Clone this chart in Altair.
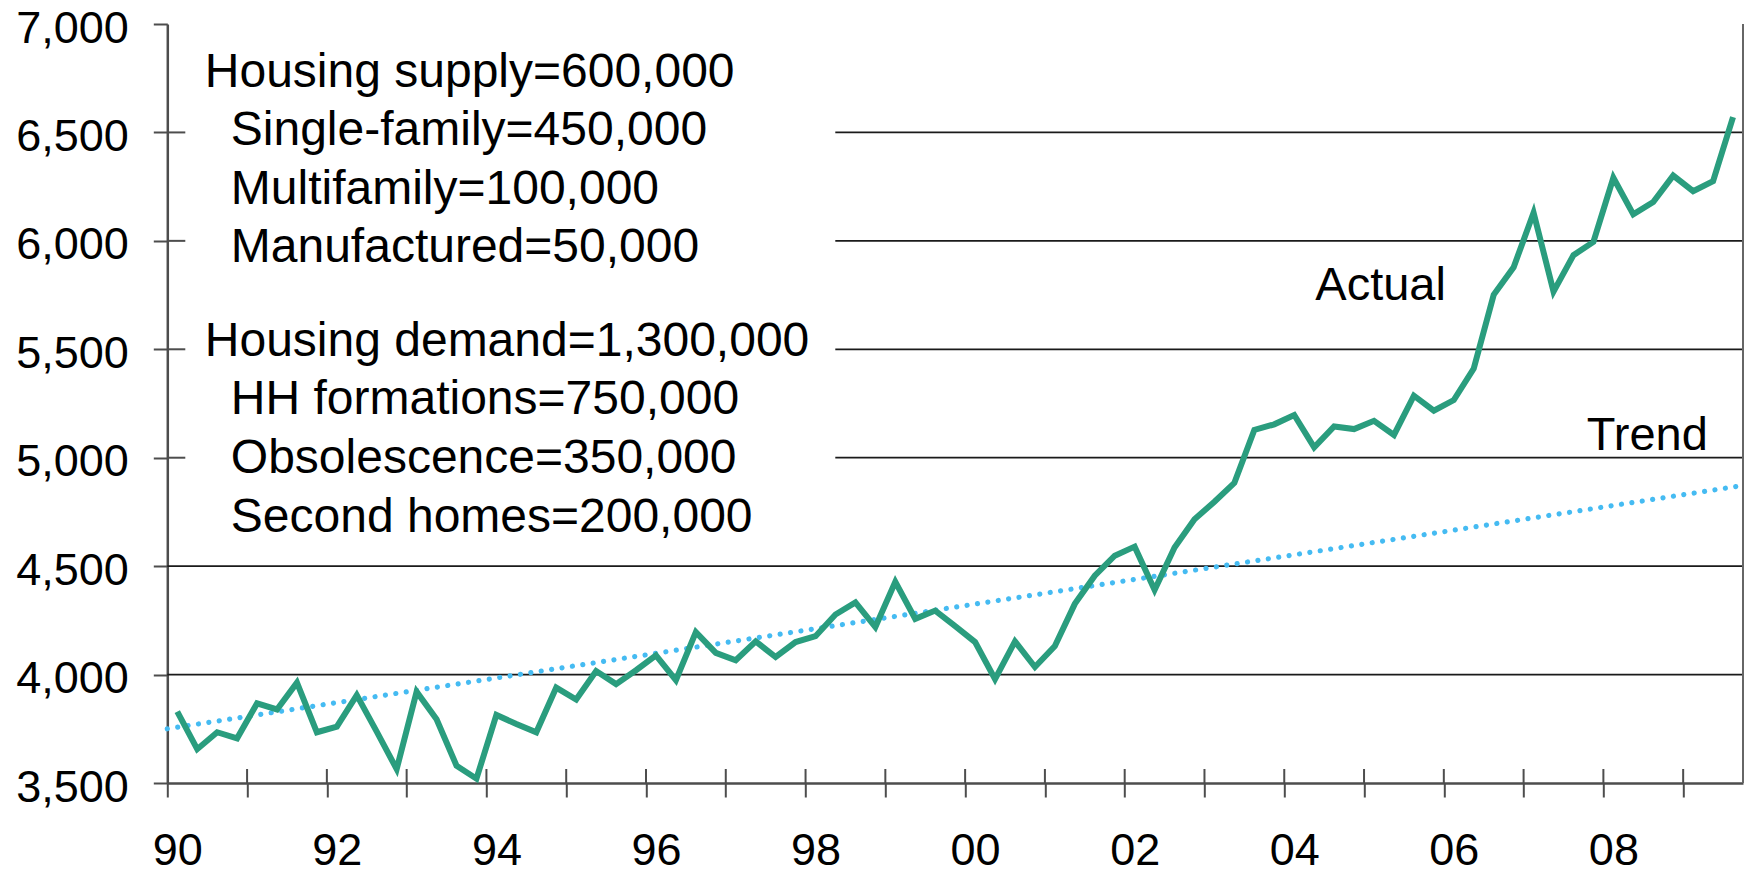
import altair as alt
import pandas as pd

# ---------------- data ----------------
years_q = list(range(1990, 2010))
actual = [
    3829, 3656, 3734, 3706,   # 1990
    3867, 3839, 3963, 3734,   # 1991
    3760, 3905, 3737, 3564,   # 1992
    3921, 3794, 3580, 3520,   # 1993
    3814, 3772, 3734, 3940,   # 1994
    3885, 4016, 3956, 4020,   # 1995
    4089, 3974, 4196, 4100,   # 1996
    4066, 4153, 4081, 4150,   # 1997
    4177, 4277, 4333, 4219,   # 1998
    4428, 4257, 4295, 4223,   # 1999
    4150, 3979, 4153, 4035,   # 2000
    4132, 4326, 4456, 4548,   # 2001
    4590, 4390, 4586, 4716,   # 2002
    4797, 4884, 5128, 5154,   # 2003
    5197, 5048, 5144, 5132,   # 2004
    5170, 5105, 5286, 5217,   # 2005
    5266, 5411, 5751, 5878,   # 2006
    6130, 5766, 5934, 5995,   # 2007
    6291, 6122, 6179, 6301,   # 2008
    6229, 6275, 6571,         # 2009
]
trend_x = [1990.0, 2009.75]
trend_y = [3750, 4872]

y_ticks = [3500, 4000, 4500, 5000, 5500, 6000, 6500, 7000]
x_ticks = list(range(1990, 2010))
grid_full = [4000, 4500]
grid_partial = [5000, 5500, 6000, 6500]

supply_head = "Housing supply=600,000"
supply_items = ["Single-family=450,000", "Multifamily=100,000", "Manufactured=50,000"]
demand_head = "Housing demand=1,300,000"
demand_items = ["HH formations=750,000", "Obsolescence=350,000", "Second homes=200,000"]

# ---------------- tables ----------------
qx = []
for y in years_q:
    for q in range(1, 5):
        qx.append(y + (q - 0.5) / 4)
qx = qx[:len(actual)]
df_actual = pd.DataFrame({"x": qx, "v": actual})
df_trend = pd.DataFrame({"x": trend_x, "v": trend_y})
df_gfull = pd.DataFrame({"v": grid_full})
df_gpart = pd.DataFrame({"v": grid_partial})
df_xt = pd.DataFrame({"x": x_ticks[1:]})

W = 1575.7
H = 759
FONT = "Liberation Sans"
AXIS_COLOR = "#4d4d4d"
LH = 58.3

xscale = alt.Scale(domain=[1990, 2009.75], nice=False, zero=False)
yscale = alt.Scale(domain=[3500, 7000], nice=False, zero=False)

xaxis = alt.Axis(values=x_ticks, title=None, grid=False, tickSize=14,
                 labelExpr="datum.value % 2 == 0 ? substring(toString(datum.value), 2, 4) : ''",
                 labelFontSize=45, labelFont=FONT, labelColor="black",
                 labelPadding=31, labelOffset=10, labelFlush=False,
                 labelOverlap=False, labelBound=False,
                 domainColor=AXIS_COLOR, domainWidth=2.5,
                 tickColor=AXIS_COLOR, tickWidth=2)
yaxis = alt.Axis(values=y_ticks, title=None, grid=False, tickSize=14, format=",.0f",
                 labelFontSize=45, labelFont=FONT, labelColor="black",
                 labelPadding=25, labelOffset=4, labelFlush=False,
                 labelOverlap=False, labelBound=False,
                 domainColor=AXIS_COLOR, domainWidth=2.5,
                 tickColor=AXIS_COLOR, tickWidth=2)

base_line = alt.Chart(df_actual).mark_line(
    color="#2A9D7E", strokeWidth=6, strokeJoin="miter", strokeCap="butt"
).encode(
    x=alt.X("x:Q", scale=xscale, axis=xaxis),
    y=alt.Y("v:Q", scale=yscale, axis=yaxis),
)

trend = alt.Chart(df_trend).mark_line(
    color="#45BBF2", strokeWidth=5.2, strokeCap="round", strokeDash=[0.01, 10.5]
).encode(
    x=alt.X("x:Q", scale=xscale),
    y=alt.Y("v:Q", scale=yscale),
)

grid1 = alt.Chart(df_gfull).mark_rule(color="#1a1a1a", strokeWidth=1.7).encode(
    y=alt.Y("v:Q", scale=yscale), x=alt.value(0), x2=alt.value(W))
grid2 = alt.Chart(df_gpart).mark_rule(color="#1a1a1a", strokeWidth=1.7).encode(
    y=alt.Y("v:Q", scale=yscale), x=alt.value(668), x2=alt.value(W))

xin = alt.Chart(df_xt).mark_rule(color=AXIS_COLOR, strokeWidth=2).encode(
    x=alt.X("x:Q", scale=xscale), y=alt.value(H), y2=alt.value(H - 14))
yin = alt.Chart(df_gpart).mark_rule(color=AXIS_COLOR, strokeWidth=2).encode(
    y=alt.Y("v:Q", scale=yscale), x=alt.value(0), x2=alt.value(18))

right_border = alt.Chart(df_trend).mark_rule(color="#666666", strokeWidth=2).encode(
    x=alt.value(W), y=alt.value(0), y2=alt.value(H))

def txt(t, x, y, size=48, lh=LH):
    return alt.Chart(pd.DataFrame({"t": [t]})).mark_text(
        align="left", baseline="alphabetic", font=FONT, fontSize=size,
        color="black", lineBreak="\n", lineHeight=lh
    ).encode(text="t:N", x=alt.value(x), y=alt.value(y))

TX = 37.5
IND = 26
y_sup = 63
y_dem = 331.5
t_supply_h = txt(supply_head, TX, y_sup)
t_supply_i = txt("\n".join(supply_items), TX + IND, y_sup + LH)
t_demand_h = txt(demand_head, TX, y_dem)
t_demand_i = txt("\n".join(demand_items), TX + IND, y_dem + 58.8, lh=58.8)
t_actual = txt("Actual", 1148, 275.5, size=47)
t_trend = txt("Trend", 1419.5, 425.5, size=47)

chart = alt.layer(
    grid1, grid2, xin, yin, trend, base_line, right_border,
    t_supply_h, t_supply_i, t_demand_h, t_demand_i, t_actual, t_trend
).properties(
    width=W, height=H,
    padding={"left": 159.3, "top": 16, "right": 1, "bottom": 83},
    autosize=alt.AutoSizeParams(type="none"),
).configure_view(stroke=None)

chart.save("out.html", embed_options={"renderer": "svg", "actions": False})
